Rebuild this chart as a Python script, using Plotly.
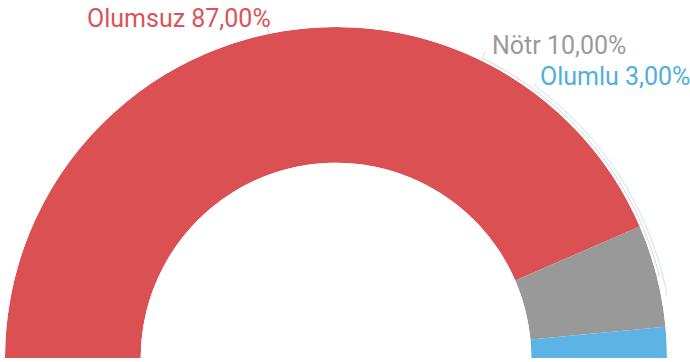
import numpy as np
import plotly.graph_objects as go

labels = ["Olumsuz", "Nötr", "Olumlu"]
shares = [87.0, 10.0, 3.0]
colors = ["#DA5053", "#999999", "#5DB3E6"]
text_colors = ["#D9545A", "#9A9A9A", "#4FAEE0"]

# percentages -> degrees on a half circle
spans = [s * 1.8 for s in shares]
ends = np.cumsum(spans)
centers = [e - s / 2 for e, s in zip(ends, spans)]

fig = go.Figure()
for lab, sp, c, col in zip(labels, spans, centers, colors):
    fig.add_trace(go.Barpolar(
        r=[1], theta=[c], width=[sp], base=0, name=lab,
        marker=dict(color=col, line=dict(width=0)),
    ))


def arc_xy(t, rho):
    t = np.radians(t)
    return -rho * np.cos(t), rho * np.sin(t)


def leader(t0, t1, rho, rho_end, col):
    th = np.linspace(t0, t1, 80)
    rr = np.full_like(th, rho)
    th = np.concatenate([[t0], th, [t1]])
    rr = np.concatenate([[0.99], rr, [rho_end]])
    x, y = arc_xy(th, rr)
    fig.add_trace(go.Scatter(x=x, y=y, mode="lines", line=dict(color=col, width=1),
                             hoverinfo="skip", cliponaxis=False))


# leader lines hugging the outer edge
leader(centers[1], 116, 1.008, 1.03, "#D3D7DA")
leader(centers[2], 126, 1.018, 1.025, "#C6E4F3")
x, y = arc_xy(np.array([centers[0], centers[0]]), np.array([0.995, 1.035]))
fig.add_trace(go.Scatter(x=x, y=y, mode="lines", line=dict(color="#D3D7DA", width=1),
                         hoverinfo="skip", cliponaxis=False))

label_pos = [(0.121, 1.027), (0.733, 0.943), (0.805, 0.849)]
for lab, s, tc, (x, y) in zip(labels, shares, text_colors, label_pos):
    fig.add_annotation(
        x=x, y=y, xref="paper", yref="paper", xanchor="left", yanchor="middle",
        text=f"{lab} {s:.2f}%".replace(".", ","), showarrow=False,
        font=dict(family="Roboto", size=25, color=tc),
    )

fig.update_layout(
    width=690, height=362,
    margin=dict(l=5, r=23, t=27, b=4),
    paper_bgcolor="white",
    plot_bgcolor="rgba(0,0,0,0)",
    showlegend=False,
    xaxis=dict(range=[-1, 1], visible=False, fixedrange=True),
    yaxis=dict(range=[0, 1], visible=False, fixedrange=True),
    polar=dict(
        sector=[0, 180],
        hole=0.59,
        bgcolor="rgba(0,0,0,0)",
        radialaxis=dict(range=[0, 1], visible=False),
        angularaxis=dict(rotation=180, direction="clockwise", visible=False),
    ),
)

fig.write_html("out.html", config={"displayModeBar": False},
               post_script="document.body.style.margin='0';")
